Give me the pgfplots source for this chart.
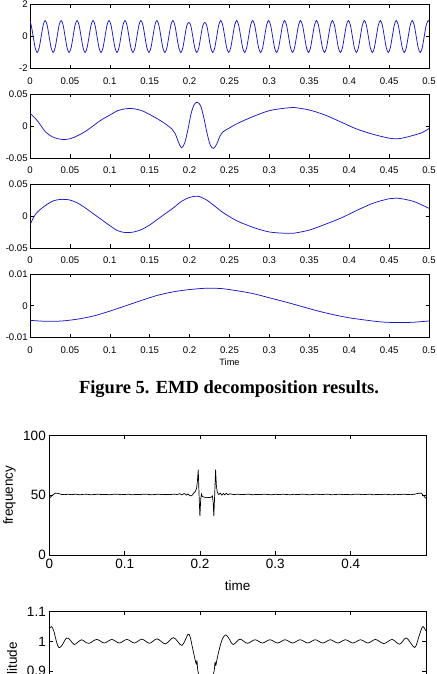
\documentclass[border=0pt]{standalone}
\usepackage{pgfplots}
\pgfplotsset{compat=1.18}
\usepackage{fontspec}
\setmainfont{Liberation Sans}
\newfontfamily\capfont{Liberation Serif}
\definecolor{mblue}{rgb}{0.1,0.1,0.8}
\pgfplotsset{
  common/.style={
    scale only axis, anchor=south west,
    xmin=0, xmax=0.5, scaled ticks=false,
    tick align=inside, xtick pos=both, ytick pos=both,
    major tick length=3.5pt,
    tick style={black, line width=0.5pt},
    axis line style={black, line width=0.7pt},
  },
  topstyle/.style={
    common, width=399pt, height=64pt,
    xtick={0,0.05,0.1,0.15,0.2,0.25,0.3,0.35,0.4,0.45,0.5},
    xticklabels={0,0.05,0.1,0.15,0.2,0.25,0.3,0.35,0.4,0.45,0.5},
    ticklabel style={font=\fontsize{9.6}{10}\selectfont},
    xticklabel style={yshift=-5.5pt},
    yticklabel style={xshift=1.2pt},
  },
  botstyle/.style={
    common, width=376.7pt, height=119.3pt,
    xtick={0,0.1,0.2,0.3,0.4},
    ticklabel style={font=\fontsize{13.5}{14}\selectfont},
    label style={font=\fontsize{13.5}{14}\selectfont},
    xticklabel style={yshift=-1pt},
  },
  bl/.style={mblue, line width=0.75pt, smooth, mark=none},
  bk/.style={black, line width=0.7pt, mark=none},
}
\begin{document}
\begin{tikzpicture}
\path[use as bounding box] (0pt,0pt) rectangle (436pt,674pt);
\clip (0pt,0pt) rectangle (436pt,674pt);
% panel 1
\begin{axis}[topstyle, at={(30pt,605.5pt)}, ymin=-2, ymax=2,
  ytick={-2,0,2}, yticklabels={-2,0,2}]
\addplot[bl] coordinates {
(0,0.95)(0.0015,0.71)(0.004,0)(0.0065,-0.71)(0.009,-1)(0.0115,-0.71)(0.014,0)(0.0165,0.71)(0.019,1)
(0.0215,0.71)(0.024,0)(0.0265,-0.71)(0.029,-1)(0.0315,-0.71)(0.034,0)(0.0365,0.71)(0.039,1)
(0.0415,0.71)(0.044,0)(0.0465,-0.71)(0.049,-1)(0.0515,-0.71)(0.054,0)(0.0565,0.71)(0.059,1)
(0.0615,0.71)(0.064,0)(0.0665,-0.71)(0.069,-1)(0.0715,-0.71)(0.074,0)(0.0765,0.71)(0.079,1)
(0.0815,0.71)(0.084,0)(0.0865,-0.71)(0.089,-1)(0.0915,-0.71)(0.094,0)(0.0965,0.71)(0.099,1)
(0.1015,0.71)(0.104,0)(0.1065,-0.71)(0.109,-1)(0.1115,-0.71)(0.114,0)(0.1165,0.71)(0.119,1)
(0.1215,0.71)(0.124,0)(0.1265,-0.71)(0.129,-1)(0.1315,-0.71)(0.134,0)(0.1365,0.71)(0.139,1)
(0.1415,0.71)(0.144,0)(0.1465,-0.71)(0.149,-1)(0.1515,-0.71)(0.154,0)(0.1565,0.71)(0.159,1)
(0.1615,0.71)(0.164,0)(0.1665,-0.71)(0.169,-1)(0.1715,-0.71)(0.174,0)(0.1765,0.71)(0.179,1)
(0.1815,0.71)(0.184,0)(0.1865,-0.71)(0.189,-1)(0.1915,-0.71)(0.194,0)(0.1965,0.68)(0.199,0.88)
(0.2015,0.68)(0.204,0)(0.2065,-0.71)(0.209,-1)(0.2115,-0.71)(0.214,0)(0.2165,0.68)(0.219,0.88)
(0.2215,0.68)(0.224,0)(0.2265,-0.71)(0.229,-1)(0.2315,-0.71)(0.234,0)(0.2365,0.71)(0.239,1)
(0.2415,0.71)(0.244,0)(0.2465,-0.71)(0.249,-1)(0.2515,-0.71)(0.254,0)(0.2565,0.71)(0.259,1)
(0.2615,0.71)(0.264,0)(0.2665,-0.71)(0.269,-1)(0.2715,-0.71)(0.274,0)(0.2765,0.71)(0.279,1)
(0.2815,0.71)(0.284,0)(0.2865,-0.71)(0.289,-1)(0.2915,-0.71)(0.294,0)(0.2965,0.71)(0.299,1)
(0.3015,0.71)(0.304,0)(0.3065,-0.71)(0.309,-1)(0.3115,-0.71)(0.314,0)(0.3165,0.71)(0.319,1)
(0.3215,0.71)(0.324,0)(0.3265,-0.71)(0.329,-1)(0.3315,-0.71)(0.334,0)(0.3365,0.71)(0.339,1)
(0.3415,0.71)(0.344,0)(0.3465,-0.71)(0.349,-1)(0.3515,-0.71)(0.354,0)(0.3565,0.71)(0.359,1)
(0.3615,0.71)(0.364,0)(0.3665,-0.71)(0.369,-1)(0.3715,-0.71)(0.374,0)(0.3765,0.71)(0.379,1)
(0.3815,0.71)(0.384,0)(0.3865,-0.71)(0.389,-1)(0.3915,-0.71)(0.394,0)(0.3965,0.71)(0.399,1)
(0.4015,0.71)(0.404,0)(0.4065,-0.71)(0.409,-1)(0.4115,-0.71)(0.414,0)(0.4165,0.71)(0.419,1)
(0.4215,0.71)(0.424,0)(0.4265,-0.71)(0.429,-1)(0.4315,-0.71)(0.434,0)(0.4365,0.71)(0.439,1)
(0.4415,0.71)(0.444,0)(0.4465,-0.71)(0.449,-1)(0.4515,-0.71)(0.454,0)(0.4565,0.71)(0.459,1)
(0.4615,0.71)(0.464,0)(0.4665,-0.71)(0.469,-1)(0.4715,-0.71)(0.474,0)(0.4765,0.71)(0.479,1)
(0.4815,0.71)(0.484,0)(0.4865,-0.71)(0.489,-1)(0.4915,-0.71)(0.494,0)(0.4965,0.71)(0.499,1)
(0.5,0.95)};
\end{axis}
% panel 2
\begin{axis}[topstyle, at={(30pt,516pt)}, ymin=-0.05, ymax=0.05,
  ytick={-0.05,0,0.05}, yticklabels={-0.05,0,0.05}]
\addplot[bl] coordinates {
(0,0.020)(0.005,0.014)(0.01,0.007)(0.02,-0.010)(0.03,-0.018)(0.04,-0.021)(0.05,-0.020)
(0.06,-0.015)(0.07,-0.008)(0.08,0.001)(0.09,0.010)(0.1,0.017)(0.11,0.024)(0.12,0.027)
(0.13,0.027)(0.14,0.024)(0.15,0.018)(0.16,0.011)(0.17,0.003)(0.178,-0.005)(0.182,-0.012)
(0.186,-0.025)(0.19,-0.034)(0.194,-0.026)(0.198,-0.005)(0.202,0.020)(0.206,0.034)
(0.21,0.037)(0.214,0.031)(0.218,0.012)(0.222,-0.012)(0.226,-0.030)(0.23,-0.035)
(0.234,-0.028)(0.238,-0.016)(0.242,-0.009)(0.25,-0.003)(0.26,0.004)(0.28,0.015)
(0.3,0.024)(0.32,0.028)(0.33,0.029)(0.35,0.025)(0.37,0.017)(0.39,0.006)(0.41,-0.005)
(0.43,-0.013)(0.45,-0.019)(0.46,-0.020)(0.47,-0.018)(0.49,-0.011)(0.5,-0.004)};
\end{axis}
% panel 3
\begin{axis}[topstyle, at={(30pt,426pt)}, ymin=-0.05, ymax=0.05,
  ytick={-0.05,0,0.05}, yticklabels={-0.05,0,0.05}]
\addplot[bl] coordinates {
(0,-0.014)(0.005,-0.001)(0.01,0.007)(0.02,0.017)(0.03,0.024)(0.04,0.026)(0.05,0.025)
(0.06,0.020)(0.07,0.012)(0.08,0.003)(0.09,-0.006)(0.1,-0.015)(0.11,-0.023)(0.12,-0.026)
(0.13,-0.025)(0.14,-0.021)(0.15,-0.014)(0.16,-0.005)(0.17,0.004)(0.18,0.013)(0.19,0.023)
(0.2,0.029)(0.21,0.031)(0.22,0.026)(0.23,0.017)(0.24,0.007)(0.25,-0.001)(0.26,-0.008)
(0.28,-0.018)(0.3,-0.025)(0.32,-0.027)(0.33,-0.027)(0.35,-0.022)(0.37,-0.013)
(0.39,-0.003)(0.41,0.009)(0.43,0.020)(0.45,0.027)(0.46,0.028)(0.48,0.023)(0.5,0.012)};
\end{axis}
% panel 4
\begin{axis}[topstyle, at={(30pt,336.5pt)}, height=63.5pt, ymin=-0.01, ymax=0.01,
  ytick={-0.01,0,0.01}, yticklabels={-0.01,0,0.01},
  xlabel={Time}, xlabel style={at={(axis description cs:0.5,0)}, anchor=center,
  yshift=-24.5pt, font=\fontsize{9.2}{10}\selectfont}]
\addplot[bl] coordinates {
(0,-0.0046)(0.02,-0.0049)(0.04,-0.0048)(0.06,-0.0042)(0.08,-0.0032)(0.1,-0.0017)
(0.12,0)(0.14,0.0017)(0.16,0.0033)(0.18,0.0044)(0.2,0.0051)(0.22,0.0055)(0.24,0.0054)
(0.26,0.0047)(0.28,0.0038)(0.3,0.0025)(0.32,0.0012)(0.34,-0.0002)(0.36,-0.0016)
(0.38,-0.0028)(0.4,-0.0038)(0.42,-0.0045)(0.44,-0.0051)(0.46,-0.0053)(0.48,-0.0052)(0.5,-0.0048)};
\end{axis}
% caption
\node[font=\capfont\bfseries\fontsize{18.5}{20}\selectfont] at (229pt,285pt) {Figure 5. EMD decomposition results.};
% panel 5 frequency
\begin{axis}[botstyle, at={(49.3pt,119pt)}, ymin=0, ymax=100,
  xticklabels={0,0.1,0.2,0.3,0.4},
  ytick={0,50,100}, yticklabels={0,50,100},
  xlabel={time}, xlabel style={at={(axis description cs:0.5,0)}, anchor=center, yshift=-31pt},
  ylabel={frequency}, ylabel style={at={(axis description cs:-0.1057,0.5)}, anchor=center}]
\addplot[bk] coordinates {
(0,47.5)(0.004,50)(0.008,51.8)(0.012,51.6)(0.016,50.8)(0.02,50.6)(0.025,50.9)(0.03,50.6)
(0.035,51.0)(0.04,50.5)(0.045,50.8)(0.05,50.9)(0.055,50.5)(0.06,50.7)(0.065,51.0)(0.07,50.6)
(0.075,50.8)(0.08,50.5)(0.085,50.9)(0.09,51.0)(0.095,50.6)(0.1,50.7)(0.105,51.0)(0.11,50.5)
(0.115,50.8)(0.12,50.6)(0.125,51.0)(0.13,50.9)(0.135,50.5)(0.14,50.7)(0.145,51.0)(0.15,50.6)
(0.155,50.8)(0.16,50.6)(0.165,51.0)(0.17,50.7)(0.173,51.4)(0.176,50.4)(0.179,51.6)
(0.182,50.2)(0.184,51.2)(0.186,50.0)(0.188,49.5)(0.19,50.4)(0.192,52.0)(0.194,53.5)
(0.1955,56)(0.1966,62)(0.1977,71.5)(0.1988,50)(0.1999,32.5)(0.201,47)(0.202,51)(0.203,49.2)
(0.205,48.6)(0.207,48.3)(0.209,48.0)(0.211,48.3)(0.213,48.1)(0.215,48.6)(0.2165,49.5)
(0.2175,44)(0.2184,32.5)(0.2195,50)(0.2207,71.5)(0.2218,58)(0.223,52.5)(0.225,50.6)
(0.227,51.8)(0.229,50.2)(0.231,51.5)(0.233,50.4)(0.235,51.8)(0.237,50.6)(0.24,51.3)
(0.245,50.6)(0.25,51.0)(0.255,50.6)(0.26,50.8)(0.265,51.0)(0.27,50.5)(0.275,50.8)(0.28,50.6)
(0.285,51.0)(0.29,50.7)(0.295,50.5)(0.3,50.9)(0.305,50.6)(0.31,51.0)(0.315,50.7)(0.32,50.5)
(0.325,50.9)(0.33,50.6)(0.335,51.0)(0.34,50.8)(0.345,50.5)(0.35,50.7)(0.355,51.0)(0.36,50.6)
(0.365,50.8)(0.37,51.0)(0.375,50.5)(0.38,50.7)(0.385,51.0)(0.39,50.6)(0.395,50.8)(0.4,50.5)
(0.405,50.9)(0.41,51.0)(0.415,50.6)(0.42,50.7)(0.425,51.0)(0.43,50.5)(0.435,50.8)(0.44,50.6)
(0.445,51.0)(0.45,50.7)(0.455,50.5)(0.46,50.9)(0.465,50.6)(0.47,51.0)(0.475,50.7)(0.48,50.6)
(0.485,51.0)(0.49,51.7)(0.494,51.8)(0.497,49.5)(0.5,47.5)};
\end{axis}
% panel 6 amplitude (cut off at the page edge, as in the reference)
\begin{axis}[botstyle, at={(49.3pt,-57pt)}, ymin=0.7, ymax=1.1,
  xticklabels={}, ytick={0.9,1,1.1}, yticklabels={0.9,1,1.1},
  ylabel={amplitude}, ylabel style={at={(axis description cs:-0.0956,0.5)}, anchor=center}]
\addplot[bk, smooth] coordinates {
(0,1.043)(0.003,1.05)(0.006,1.035)(0.01,0.995)(0.013,0.979)(0.017,0.988)(0.023,1.012)
(0.028,1.004)(0.033,0.99)(0.038,0.998)(0.043,1.006)(0.048,0.998)(0.053,0.994)(0.063,1.007)
(0.073,0.995)(0.083,1.007)(0.093,0.995)(0.103,1.007)(0.113,0.995)(0.123,1.008)(0.133,0.994)
(0.143,1.009)(0.154,0.992)(0.165,1.013)(0.176,0.987)(0.184,1.024)(0.187,1.015)(0.19,0.98)
(0.193,0.945)(0.195,0.925)(0.196,0.935)(0.197,0.905)(0.199,0.88)(0.203,0.83)(0.208,0.80)
(0.213,0.83)(0.217,0.88)(0.219,0.905)(0.22,0.93)(0.221,0.92)(0.223,0.945)(0.226,0.978)
(0.23,1.01)(0.234,1.022)(0.238,1.012)(0.244,0.99)(0.253,1.008)(0.263,0.994)(0.273,1.006)
(0.283,0.995)(0.293,1.006)(0.303,0.995)(0.313,1.006)(0.323,0.995)(0.333,1.006)(0.343,0.995)
(0.353,1.006)(0.363,0.995)(0.373,1.006)(0.383,0.995)(0.393,1.006)(0.403,0.995)(0.413,1.006)
(0.423,0.995)(0.433,1.007)(0.444,0.993)(0.455,1.007)(0.465,0.991)(0.474,1.012)(0.485,0.98)
(0.491,1.02)(0.4956,1.05)(0.5,1.035)};
\end{axis}
\end{tikzpicture}
\end{document}
